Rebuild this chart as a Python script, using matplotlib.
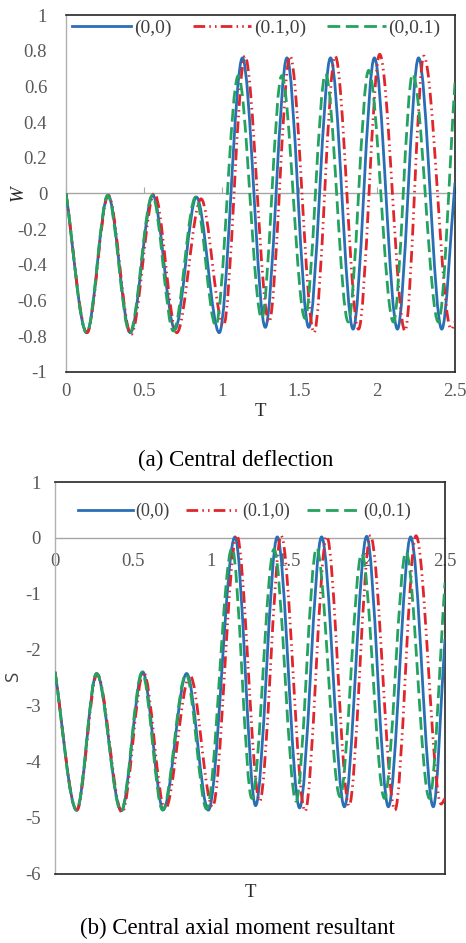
import numpy as np
import matplotlib
matplotlib.use('Agg')
import matplotlib.pyplot as plt
from matplotlib.path import Path
from matplotlib.patches import PathPatch
from matplotlib.lines import Line2D

# ---------------- data (extrema) ----------------
series_names = ['(0,0)', '(0.1,0)', '(0,0.1)']

# (a) central deflection W
w_t_00 = [0, 0.133, 0.270, 0.413, 0.558, 0.700, 0.838, 0.985, 1.134, 1.281, 1.420, 1.560, 1.700, 1.845, 1.982, 2.130, 2.266, 2.415, 2.5]
w_v_00 = [0, -0.78, -0.01, -0.78, -0.01, -0.76, -0.02, -0.78, 0.76, -0.75, 0.76, -0.75, 0.76, -0.76, 0.76, -0.76, 0.76, -0.76, 0.06]
w_t_10 = [0, 0.135, 0.272, 0.418, 0.568, 0.712, 0.868, 1.012, 1.150, 1.305, 1.440, 1.594, 1.730, 1.880, 2.016, 2.179, 2.300, 2.475, 2.5]
w_v_10 = [0, -0.78, -0.01, -0.79, 0.0, -0.78, -0.03, -0.74, 0.77, -0.72, 0.77, -0.78, 0.77, -0.76, 0.78, -0.77, 0.77, -0.76, -0.72]
w_t_01 = [0, 0.133, 0.268, 0.410, 0.555, 0.690, 0.833, 0.962, 1.107, 1.258, 1.386, 1.536, 1.668, 1.814, 1.945, 2.104, 2.228, 2.393, 2.5]
w_v_01 = [0, -0.78, -0.01, -0.78, -0.01, -0.77, -0.02, -0.74, 0.66, -0.70, 0.66, -0.70, 0.67, -0.72, 0.69, -0.72, 0.67, -0.72, 0.62]

# (b) central axial moment resultant S
s_t_00 = [0, 0.139, 0.267, 0.425, 0.562, 0.694, 0.844, 0.983, 1.154, 1.286, 1.425, 1.568, 1.709, 1.855, 1.998, 2.137, 2.280, 2.425, 2.5]
s_v_00 = [-2.39, -4.86, -2.42, -4.87, -2.39, -4.85, -2.42, -4.86, 0.02, -4.78, 0.02, -4.82, 0.02, -4.80, 0.03, -4.80, 0.02, -4.80, -1.8]
s_t_10 = [0, 0.140, 0.270, 0.430, 0.568, 0.705, 0.865, 1.010, 1.165, 1.312, 1.450, 1.603, 1.742, 1.885, 2.022, 2.179, 2.314, 2.475, 2.5]
s_v_10 = [-2.39, -4.86, -2.43, -4.90, -2.40, -4.85, -2.45, -4.80, 0.05, -4.70, 0.04, -4.88, 0.03, -4.78, 0.04, -4.86, 0.04, -4.75, -4.65]
s_t_01 = [0, 0.138, 0.266, 0.424, 0.558, 0.690, 0.840, 0.972, 1.135, 1.262, 1.404, 1.545, 1.677, 1.827, 1.966, 2.112, 2.250, 2.400, 2.5]
s_v_01 = [-2.39, -4.86, -2.42, -4.88, -2.40, -4.86, -2.43, -4.84, -0.18, -4.65, -0.20, -4.70, -0.18, -4.62, -0.28, -4.65, -0.25, -4.65, -0.8]

x_ticks = [0, 0.5, 1, 1.5, 2, 2.5]
x_tick_labels = ['0', '0.5', '1', '1.5', '2', '2.5']
w_ticks = [1, 0.8, 0.6, 0.4, 0.2, 0, -0.2, -0.4, -0.6, -0.8, -1]
w_tick_labels = ['1', '0.8', '0.6', '0.4', '0.2', '0', '-0.2', '-0.4', '-0.6', '-0.8', '-1']
s_ticks = [1, 0, -1, -2, -3, -4, -5, -6]
s_tick_labels = ['1', '0', '-1', '-2', '-3', '-4', '-5', '-6']

# ---------------- styles ----------------
colors = ['#2a6fb5', '#e0262b', '#25a35e']
lw = 2.0
styles = ['-', (0, (4.2, 1.5, 0.55, 1.5, 0.55, 1.5)), (0, (4.6, 2.0))]
serif = 'Liberation Serif'
tick_color = '#595959'
zero_color = '#a6a6a6'
tick_size = 13.5


def smooth_path(t, v):
    """Smooth (Excel-like) curve through the data points as cubic Bezier path."""
    t = np.asarray(t, float)
    v = np.asarray(v, float)
    n = len(t)
    slope = np.zeros(n)
    for i in range(n):
        if i == 0:
            slope[i] = (v[1] - v[0]) / (t[1] - t[0])
        elif i == n - 1:
            slope[i] = (v[-1] - v[-2]) / (t[-1] - t[-2])
        else:
            a = v[i] - v[i - 1]
            b = v[i + 1] - v[i]
            slope[i] = 0.0 if a * b <= 0 else (v[i + 1] - v[i - 1]) / (t[i + 1] - t[i - 1])
    verts = [(t[0], v[0])]
    codes = [Path.MOVETO]
    for i in range(n - 1):
        h = t[i + 1] - t[i]
        verts += [(t[i] + h / 3, v[i] + slope[i] * h / 3),
                  (t[i + 1] - h / 3, v[i + 1] - slope[i + 1] * h / 3),
                  (t[i + 1], v[i + 1])]
        codes += [Path.CURVE4] * 3
    return Path(verts, codes)


def draw_series(ax, data):
    for (t, v), c, ls in zip(data, colors, styles):
        ax.add_patch(PathPatch(smooth_path(t, v), fill=False, edgecolor=c,
                               linewidth=lw, linestyle=ls, capstyle='butt',
                               joinstyle='round', zorder=3))


def style_frame(ax):
    for side in ['top', 'right', 'bottom']:
        ax.spines[side].set_color('#262626')
        ax.spines[side].set_linewidth(1.2)
    ax.spines['left'].set_color('#b0b0b0')
    ax.spines['left'].set_linewidth(1.0)
    ax.tick_params(length=0, labelcolor=tick_color)
    for lab in ax.get_xticklabels() + ax.get_yticklabels():
        lab.set_fontfamily(serif)
        lab.set_fontsize(tick_size)


def zero_axis(ax, frac, show_labels, pad):
    sec = ax.secondary_xaxis(frac)
    sec.set_alignment('bottom')
    for side in sec.spines:
        sec.spines[side].set_color(zero_color)
        sec.spines[side].set_linewidth(1.0)
    if show_labels:
        sec.set_xticks(x_ticks, x_tick_labels)
        sec.tick_params(length=0, pad=pad, labelcolor=tick_color,
                        labelbottom=True, labeltop=False)
        for lab in sec.get_xticklabels():
            lab.set_fontfamily(serif)
            lab.set_fontsize(tick_size)
    else:
        sec.set_xticks(x_ticks)
        sec.tick_params(direction='in', length=4, color=zero_color,
                        labelbottom=False, labeltop=False)
    return sec


handles = [Line2D([], [], color=c, lw=lw, linestyle=ls) for c, ls in zip(colors, styles)]

fig = plt.figure(figsize=(4.66, 9.43), dpi=100)

# ---------------- (a) ----------------
ax1 = fig.add_axes([66 / 466, 1 - 372 / 943, 389 / 466, 357 / 943])
draw_series(ax1, [(w_t_00, w_v_00), (w_t_10, w_v_10), (w_t_01, w_v_01)])
ax1.set_xlim(0, 2.5)
ax1.set_ylim(-1, 1)
ax1.set_xticks(x_ticks, x_tick_labels)
ax1.set_yticks(w_ticks, w_tick_labels)
style_frame(ax1)
ax1.tick_params(axis='y', pad=13.5)
ax1.tick_params(axis='x', pad=8)
zero_axis(ax1, 0.5, False, 0)
ax1.set_xlabel('T', fontfamily=serif, fontsize=13.5, color='#262626')
ax1.xaxis.set_label_coords(0.5, -0.088)
fig.text(18 / 466, 1 - 193 / 943, 'W', rotation=90, ha='center', va='center',
         fontfamily=serif, fontstyle='italic', fontsize=13.5, color='#262626')
leg1 = ax1.legend(handles, series_names, loc='center', bbox_to_anchor=(0.49, 0.9636),
                  ncol=3, frameon=False, handlelength=3.0, handletextpad=0.15,
                  columnspacing=1.1, prop={'family': serif, 'size': 14})
for txt in leg1.get_texts():
    txt.set_color('#404040')
fig.text(236 / 466, 1 - 460 / 943, '(a) Central deflection', ha='center', va='center',
         fontfamily=serif, fontsize=16.5, color='black')

# ---------------- (b) ----------------
ax2 = fig.add_axes([55 / 466, 1 - 874 / 943, 390 / 466, 392 / 943])
draw_series(ax2, [(s_t_00, s_v_00), (s_t_10, s_v_10), (s_t_01, s_v_01)])
ax2.set_xlim(0, 2.5)
ax2.set_ylim(-6, 1)
ax2.set_yticks(s_ticks, s_tick_labels)
ax2.set_xticks(x_ticks)
ax2.tick_params(axis='x', labelbottom=False)
style_frame(ax2)
ax2.tick_params(axis='y', pad=10.5)
zero_axis(ax2, 6 / 7, True, 11)
ax2.set_xlabel('T', fontfamily=serif, fontsize=13.5, color='#262626')
ax2.xaxis.set_label_coords(0.5, -0.026)
fig.text(13 / 466, 1 - 677 / 943, 'S', rotation=90, ha='center', va='center',
         fontfamily='Open Sans', fontsize=13.5, color='#404040')
leg2 = ax2.legend(handles, series_names, loc='center', bbox_to_anchor=(0.487, 0.924),
                  ncol=3, frameon=False, handlelength=3.0, handletextpad=0.15,
                  columnspacing=0.9, prop={'family': serif, 'size': 13})
for txt in leg2.get_texts():
    txt.set_color('#404040')
fig.text(237 / 466, 1 - 928 / 943, '(b) Central axial moment resultant', ha='center', va='center',
         fontfamily=serif, fontsize=16.5, color='black')

fig.savefig('out.png', dpi=100)
